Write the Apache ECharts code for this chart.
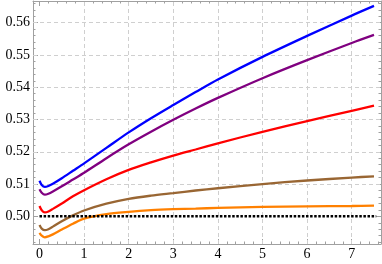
<!DOCTYPE html>
<html>
<head>
<meta charset="utf-8">
<script src="https://cdn.jsdelivr.net/npm/echarts@6/dist/echarts.min.js"></script>
<style>
html,body{margin:0;padding:0;background:#fff;}
#c{width:382px;height:264px;}
</style>
</head>
<body>
<div id="c"></div>
<script>
// ---- data ----
const xs = [0, 0.05, 0.12, 0.2, 0.3, 0.5, 0.75, 1, 1.5, 2, 2.5, 3, 3.5, 4, 5, 6, 7, 7.5];
const blueY   = [0.5110,0.5097,0.5091,0.5094,0.5101,0.5118,0.5141,0.5164,0.5212,0.5260,0.5304,0.5345,0.5385,0.5424,0.5494,0.5559,0.5622,0.5652];
const purpleY = [0.5084,0.5073,0.5067,0.5070,0.5077,0.5093,0.5114,0.5135,0.5180,0.5223,0.5262,0.5299,0.5334,0.5367,0.5428,0.5484,0.5537,0.5562];
const redY    = [0.5032,0.5019,0.5012,0.5015,0.5023,0.5040,0.5062,0.5081,0.5115,0.5144,0.5167,0.5188,0.5207,0.5226,0.5262,0.5295,0.5327,0.5343];
const brownY  = [0.4973,0.4962,0.4957,0.4960,0.4968,0.4985,0.5003,0.5018,0.5039,0.5054,0.5064,0.5072,0.5080,0.5087,0.5100,0.5111,0.5120,0.5124];
const orangeY = [0.4949,0.4940,0.4935,0.4938,0.4944,0.4959,0.4977,0.4993,0.5007,0.5014,0.5019,0.5022,0.5024,0.5026,0.5029,0.5031,0.5032,0.5033];
const refX = [0, 7.55];
const refY = [0.50, 0.50];

const xTicks = [0, 1, 2, 3, 4, 5, 6, 7];
const yTicks = [0.50, 0.51, 0.52, 0.53, 0.54, 0.55, 0.56];
const xGrid = [1, 2, 3, 4, 5, 6, 7];
const yGrid = [0.51, 0.52, 0.53, 0.54, 0.55, 0.56];

// minor tick positions
const xMinor = [];
for (let i = 1; i <= 38; i++) { if (i % 5 !== 0) xMinor.push(+(i * 0.2).toFixed(2)); }
const yMinor = [];
for (let i = 246; i <= 283; i++) { if (i % 5 !== 0) yMinor.push(+(i * 0.002).toFixed(3)); }

// ---- chart ----
const XMIN = -0.1457, XMAX = 7.657, YMIN = 0.49142, YMAX = 0.56672;
const frameColor = '#a0a0a0';
const font = "'Liberation Serif', 'DejaVu Serif', serif";

function xAx(pos, vals, len, showLine, showLabel) {
  return {
    type: 'value', position: pos, min: XMIN, max: XMAX,
    axisLine: {show: showLine, onZero: false, lineStyle: {color: frameColor, width: 1}},
    axisTick: {show: true, inside: true, length: len, customValues: vals, lineStyle: {color: frameColor, width: 1}},
    axisLabel: {show: showLabel, customValues: vals, fontFamily: font, fontSize: 14, color: '#000', margin: 3},
    splitLine: {show: false}
  };
}
function yAx(pos, vals, len, showLine, showLabel) {
  return {
    type: 'value', position: pos, min: YMIN, max: YMAX,
    axisLine: {show: showLine, onZero: false, lineStyle: {color: frameColor, width: 1}},
    axisTick: {show: true, inside: true, length: len, customValues: vals, lineStyle: {color: frameColor, width: 1}},
    axisLabel: {show: showLabel, customValues: vals, fontFamily: font, fontSize: 14, color: '#000', margin: 3,
                formatter: v => v.toFixed(2)},
    splitLine: {show: false}
  };
}

function pts(ys) { return xs.map((x, i) => [x, ys[i]]); }
function line(name, ys, color) {
  return {
    name, type: 'line', data: pts(ys), xAxisIndex: 0, yAxisIndex: 0,
    showSymbol: false, smooth: 0.3,
    lineStyle: {color, width: 2.3}, z: 5, silent: true
  };
}

const option = {
  animation: false,
  grid: {left: 33, right: 1, top: 1, bottom: 20, containLabel: false},
  xAxis: [
    xAx('bottom', xTicks, 5, true, true),
    xAx('bottom', xMinor, 2.5, false, false),
    xAx('top', xTicks, 5, true, false),
    xAx('top', xMinor, 2.5, false, false)
  ],
  yAxis: [
    yAx('left', yTicks, 5, true, true),
    yAx('left', yMinor, 2.5, false, false),
    yAx('right', yTicks, 5, true, false),
    yAx('right', yMinor, 2.5, false, false)
  ],
  series: [
    {
      name: 'grid', type: 'line', data: [], xAxisIndex: 0, yAxisIndex: 0, z: 1, silent: true,
      markLine: {
        silent: true, symbol: 'none', animation: false,
        label: {show: false},
        lineStyle: {color: '#cfcfcf', width: 1, type: [4, 3]},
        data: xGrid.map(v => ({xAxis: v})).concat(yGrid.map(v => ({yAxis: v})))
      }
    },
    {
      name: 'ref', type: 'line', data: refX.map((x, i) => [x, refY[i]]), xAxisIndex: 0, yAxisIndex: 0,
      showSymbol: false, lineStyle: {color: '#000', width: 2.6, type: [2.5, 1.6]}, z: 6, silent: true
    },
    line('orange', orangeY, '#ff8000'),
    line('brown', brownY, '#996633'),
    line('red', redY, '#ff0000'),
    line('purple', purpleY, '#800080'),
    line('blue', blueY, '#0000ff')
  ]
};

const chart = echarts.init(document.getElementById('c'), null, {renderer: 'canvas'});
chart.setOption(option);
</script>
</body>
</html>
